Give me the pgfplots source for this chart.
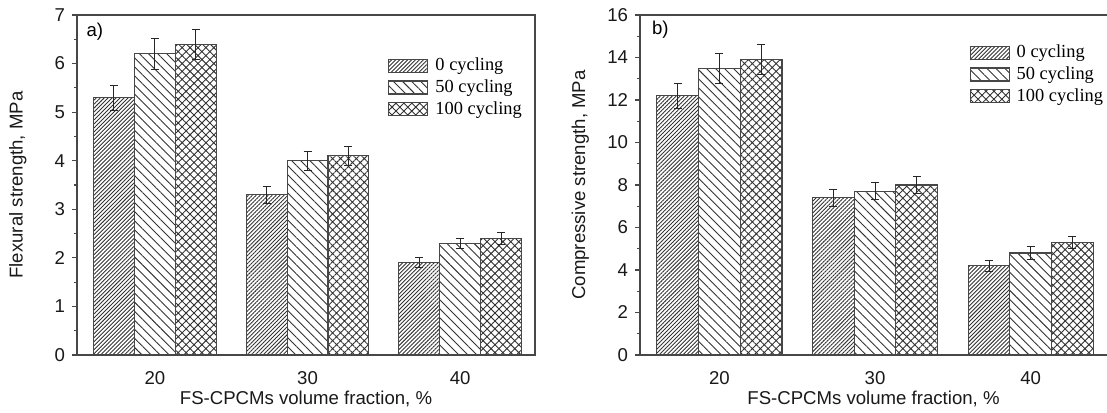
\documentclass[border=0pt]{standalone}
\usepackage{fontspec}
\setmainfont{Liberation Sans}
\newfontfamily\legfont{Liberation Serif}
\usepackage{pgfplots}
\pgfplotsset{compat=1.18}
\usetikzlibrary{patterns.meta}

\pgfplotsset{
 mystyle/.style={
  scale only axis, height=170pt,
  xmin=-0.51, xmax=2.49, ymin=0,
  xtick={0,1,2}, xticklabels={20,30,40},
  xtick style={draw=none},
  tick align=outside, ytick pos=left,
  minor y tick num=1,
  major tick length=2.5pt, minor tick length=1.5pt,
  axis line style={draw=black!72, line width=0.6pt},
  every tick/.style={black!72, line width=0.6pt},
  tick label style={font=\fontsize{9.3}{11}\selectfont, text=black!90},
  label style={font=\fontsize{9.3}{11}\selectfont, text=black!90},
  /pgf/number format/assume math mode=true,
  xlabel={FS-CPCMs volume fraction, \%},
  xlabel style={at={(axis description cs:0.5,-0.129)}, anchor=center},
  xticklabel style={anchor=base, yshift=-12.2pt},
  legend image code/.code={\draw[#1] (0pt,-3.25pt) rectangle (19.5pt,3.25pt);},
  legend style={draw=none, fill=none, font=\legfont\fontsize{9.2}{11}\selectfont,
     inner sep=0pt, row sep=-1pt, column sep=1.5pt, cells={anchor=west}},
  barA/.style={ybar, bar width=0.268, bar shift=0pt, draw=black!72, line width=0.55pt,
     pattern={Lines[angle=45,distance=1.4pt,line width=0.45pt]}, pattern color=black!80,
     error bars/.cd, y dir=both, y explicit, error bar style={black!85, line width=0.5pt}},
  barB/.style={ybar, bar width=0.268, bar shift=0pt, draw=black!72, line width=0.55pt,
     pattern={Lines[angle=-45,distance=3.2pt,line width=0.45pt]}, pattern color=black!80,
     error bars/.cd, y dir=both, y explicit, error bar style={black!85, line width=0.5pt}},
  barC/.style={ybar, bar width=0.268, bar shift=0pt, draw=black!72, line width=0.55pt,
     pattern={Hatch[angle=45,distance=2.8pt,line width=0.45pt]}, pattern color=black!80,
     error bars/.cd, y dir=both, y explicit, error bar style={black!85, line width=0.5pt}},
 }
}

\begin{document}
\begin{tikzpicture}
\useasboundingbox (-38.5pt,-28.5pt) rectangle (515pt,177.5pt);
% Panel a
\begin{axis}[mystyle, width=229pt, at={(0pt,0pt)}, anchor=south west,
  ymax=7, ytick={0,1,...,7},
  ylabel={Flexural strength, MPa},
  ylabel style={at={(axis description cs:-0.129,0.5)}, anchor=center},
  legend style={at={(0.679,0.887)}, anchor=north west}]
\addplot[barA] coordinates {(-0.268,5.3) +- (0,0.26) (0.732,3.3) +- (0,0.17) (1.732,1.9) +- (0,0.10)};
\addplot[barB] coordinates {(0,6.2) +- (0,0.31) (1,4.0) +- (0,0.20) (2,2.3) +- (0,0.11)};
\addplot[barC] coordinates {(0.268,6.4) +- (0,0.31) (1.268,4.1) +- (0,0.20) (2.268,2.4) +- (0,0.12)};
\legend{0 cycling, 50 cycling, 100 cycling}
\node[anchor=west, inner sep=0pt, font=\fontsize{9.3}{11}\selectfont] at (rel axis cs:0.02,0.95) {a)};
\end{axis}
% Panel b
\begin{axis}[mystyle, width=233.5pt, at={(281.5pt,0pt)}, anchor=south west,
  axis x line*=box, axis y line*=left,
  ymax=16, ytick={0,2,...,16},
  ylabel={Compressive strength, MPa},
  ylabel style={at={(axis description cs:-0.128,0.5)}, anchor=center},
  legend style={at={(0.705,0.925)}, anchor=north west}]
\addplot[barA] coordinates {(-0.268,12.2) +- (0,0.6) (0.732,7.4) +- (0,0.4) (1.732,4.2) +- (0,0.25)};
\addplot[barB] coordinates {(0,13.5) +- (0,0.7) (1,7.7) +- (0,0.4) (2,4.8) +- (0,0.3)};
\addplot[barC] coordinates {(0.268,13.9) +- (0,0.7) (1.268,8.0) +- (0,0.4) (2.268,5.3) +- (0,0.3)};
\legend{0 cycling, 50 cycling, 100 cycling}
\node[anchor=west, inner sep=0pt, font=\fontsize{9.3}{11}\selectfont] at (rel axis cs:0.025,0.956) {b)};
\end{axis}
\end{tikzpicture}
\end{document}
